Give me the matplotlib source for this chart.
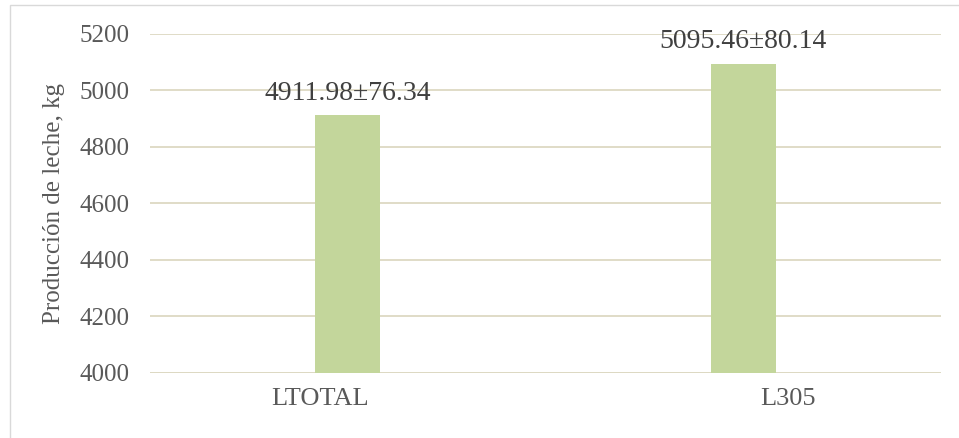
import matplotlib.pyplot as plt
import matplotlib.transforms as mtransforms
from matplotlib.patches import Rectangle

plt.rcParams['font.family'] = ['Liberation Serif', 'DejaVu Serif']

categories = ['LTOTAL', 'L305']
means = [4911.98, 5095.46]
errors = [76.34, 80.14]

W, H = 959, 438
fig = plt.figure(figsize=(W / 100, H / 100), dpi=100)
ax = fig.add_axes([150 / W, 1 - 373 / H, (941 - 150) / W, (373 - 34) / H])

# outer frame of the chart area
fig.patches.append(Rectangle((10 / W, -0.1), 1.2, 1 - 5 / H + 0.1,
                             transform=fig.transFigure, fill=False,
                             edgecolor='#D9D9D9', linewidth=1))

x = range(len(categories))
ax.bar(x, means, width=0.165, color='#C3D69B', zorder=3)

for i, (m, e) in enumerate(zip(means, errors)):
    ax.text(i, m + 55, f'{m:.2f}\u00b1{e:.2f}', ha='center', va='baseline',
            fontsize=20, color='#404040', zorder=4)

ax.set_xlim(-0.5, 1.5)
ax.set_ylim(4000, 5200)
ax.set_yticks(range(4000, 5201, 200))
ax.set_xticks(list(x))
ax.set_xticklabels(categories)
ax.grid(axis='y', color='#DDD9C3', linewidth=1.3, zorder=0)
for s in ax.spines.values():
    s.set_visible(False)
ax.axhline(4000, color='#DDD9C3', linewidth=1.3, zorder=2)
ax.tick_params(length=0, labelsize=18, labelcolor='#595959')
ax.tick_params(axis='x', labelsize=19, pad=11)
ax.tick_params(axis='y', pad=15)
ax.set_ylabel('Producción de leche, kg', fontsize=18, color='#595959')
ax.yaxis.set_label_coords(-0.107, 0.5)

# category labels sit a little off the bar centres
for lbl, dx in zip(ax.get_xticklabels(), [-20, 32]):
    lbl.set_transform(lbl.get_transform() +
                      mtransforms.ScaledTranslation(dx / 72, 0, fig.dpi_scale_trans))

fig.savefig('out.png', dpi=100)
